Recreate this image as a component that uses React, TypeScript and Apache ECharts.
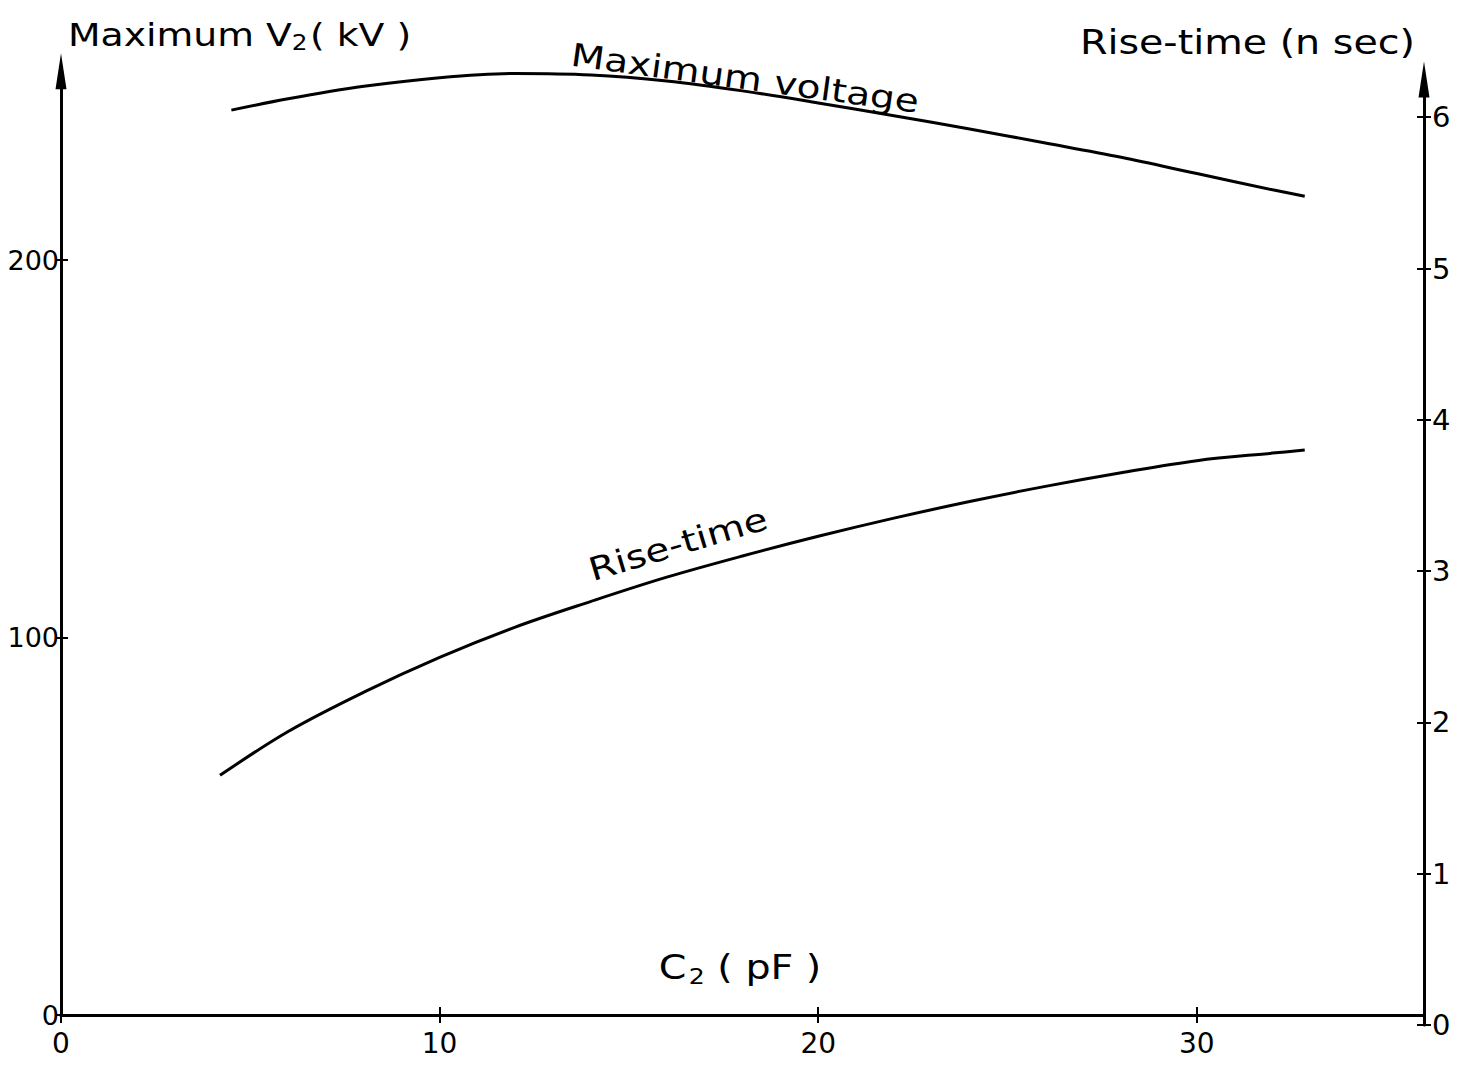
import React, { useEffect, useRef } from "react";
import * as echarts from "echarts";

// Tick values
const xTicks = [0, 10, 20, 30];
const leftTicks = [0, 100, 200];
const rightTicks = [0, 1, 2, 3, 4, 5, 6];

// Maximum voltage curve: C2 (pF) -> Maximum V2 (kV)
const voltageC = [4.5, 6, 8, 10, 12, 14, 16, 18, 20, 22, 24, 26, 28, 30, 32, 32.85];
const voltageKV = [239.7, 242.7, 246.0, 248.3, 249.4, 249.0, 247.4, 244.8, 241.6, 238.2, 234.7, 231.0, 227.2, 222.9, 218.6, 216.9];

// Rise-time curve: C2 (pF) -> rise-time (ns)
const riseC = [4.2, 6, 8, 10, 12, 14, 16, 18, 20, 22, 24, 26, 28, 30, 32, 32.85];
const riseNs = [1.65, 1.94, 2.2, 2.43, 2.63, 2.8, 2.96, 3.1, 3.23, 3.35, 3.46, 3.56, 3.65, 3.73, 3.78, 3.8];

const FONT = "DejaVu Sans";
const BLACK = "#000";

export default function App() {
  const ref = useRef<HTMLDivElement>(null);

  useEffect(() => {
    if (!ref.current) return;
    const chart = echarts.init(ref.current, undefined, { renderer: "svg" });

    const G0 = { left: 61, right: 50, top: 71.25, bottom: 50 };
    const G1 = { left: 61, right: 50, top: 79.4, bottom: 40 };

    const tickStyle = { color: BLACK, width: 2 };

    const option: any = {
      animation: false,
      backgroundColor: "#fff",
      grid: [G0, G1, { ...G0 }, { ...G1 }],
      xAxis: [
        {
          gridIndex: 0,
          type: "value",
          min: 0,
          max: 36,
          axisLine: { show: true, onZero: false, lineStyle: { color: BLACK, width: 3 } },
          axisTick: { show: true, length: 8, inside: false, customValues: xTicks, lineStyle: tickStyle },
          axisLabel: { customValues: xTicks, fontSize: 28, color: BLACK, margin: 14, fontFamily: FONT },
          splitLine: { show: false },
        },
        { gridIndex: 1, type: "value", min: 0, max: 36, show: false },
        {
          gridIndex: 2,
          type: "value",
          min: 0,
          max: 36,
          axisLine: { show: false, onZero: false },
          axisTick: { show: true, length: 8, inside: true, customValues: xTicks, lineStyle: tickStyle },
          axisLabel: { show: false },
          splitLine: { show: false },
        },
        { gridIndex: 3, type: "value", min: 0, max: 36, show: false },
      ],
      yAxis: [
        {
          gridIndex: 0,
          type: "value",
          position: "left",
          min: 0,
          max: 250,
          axisLine: {
            show: true,
            onZero: false,
            symbol: ["none", "triangle"],
            symbolSize: [11, 36],
            lineStyle: { color: BLACK, width: 3 },
          },
          axisTick: { show: true, length: 6, inside: false, customValues: leftTicks, lineStyle: tickStyle },
          axisLabel: { customValues: leftTicks, fontSize: 27, color: BLACK, margin: 2, fontFamily: FONT },
          splitLine: { show: false },
        },
        {
          gridIndex: 1,
          type: "value",
          position: "right",
          min: 0,
          max: 6.25,
          axisLine: {
            show: true,
            onZero: false,
            symbol: ["none", "triangle"],
            symbolSize: [11, 36],
            lineStyle: { color: BLACK, width: 3 },
          },
          axisTick: { show: true, length: 7, inside: false, customValues: rightTicks, lineStyle: tickStyle },
          axisLabel: { customValues: rightTicks, fontSize: 29, color: BLACK, margin: 8, fontFamily: FONT },
          splitLine: { show: false },
        },
        {
          gridIndex: 2,
          type: "value",
          position: "left",
          min: 0,
          max: 250,
          axisLine: { show: false, onZero: false },
          axisTick: { show: true, length: 7, inside: true, customValues: leftTicks, lineStyle: tickStyle },
          axisLabel: { show: false },
          splitLine: { show: false },
        },
        {
          gridIndex: 3,
          type: "value",
          position: "right",
          min: 0,
          max: 6.25,
          axisLine: { show: false, onZero: false },
          axisTick: { show: true, length: 7, inside: true, customValues: rightTicks, lineStyle: tickStyle },
          axisLabel: { show: false },
          splitLine: { show: false },
        },
      ],
      series: [
        {
          name: "Maximum voltage",
          type: "line",
          xAxisIndex: 0,
          yAxisIndex: 0,
          data: voltageC.map((c, i) => [c, voltageKV[i]]),
          smooth: 0.35,
          showSymbol: false,
          clip: false,
          lineStyle: { color: BLACK, width: 3 },
        },
        {
          name: "Rise-time",
          type: "line",
          xAxisIndex: 1,
          yAxisIndex: 1,
          data: riseC.map((c, i) => [c, riseNs[i]]),
          smooth: 0.35,
          showSymbol: false,
          clip: false,
          lineStyle: { color: BLACK, width: 3 },
        },
      ],
      graphic: [
        {
          type: "text",
          x: 68,
          y: 35,
          scaleX: 1.18,
          style: {
            text: "{a|Maximum V}{s|2}{a|( kV )}",
            align: "left",
            verticalAlign: "middle",
            rich: {
              a: { fontSize: 32, fontFamily: FONT, fill: BLACK },
              s: { fontSize: 21, fontFamily: FONT, fill: BLACK, padding: [16, 2, 0, 0] },
            },
          },
        },
        {
          type: "text",
          x: 1415,
          y: 43,
          scaleX: 1.2,
          style: {
            text: "Rise-time (n sec)",
            align: "right",
            verticalAlign: "middle",
            fontSize: 33,
            fontFamily: FONT,
            fill: BLACK,
          },
        },
        {
          type: "text",
          x: 740,
          y: 968,
          scaleX: 1.2,
          style: {
            text: "{a|C}{s|2}{a| ( pF )}",
            align: "center",
            verticalAlign: "middle",
            rich: {
              a: { fontSize: 33, fontFamily: FONT, fill: BLACK },
              s: { fontSize: 21, fontFamily: FONT, fill: BLACK, padding: [16, 0, 0, 2] },
            },
          },
        },
        {
          type: "text",
          x: 745,
          y: 78,
          rotation: -0.135,
          scaleX: 1.22,
          style: {
            text: "Maximum voltage",
            align: "center",
            verticalAlign: "middle",
            fontSize: 32,
            fontFamily: FONT,
            fill: BLACK,
          },
        },
        {
          type: "text",
          x: 678,
          y: 544,
          rotation: 0.29,
          scaleX: 1.22,
          style: {
            text: "Rise-time",
            align: "center",
            verticalAlign: "middle",
            fontSize: 32,
            fontFamily: FONT,
            fill: BLACK,
          },
        },
      ],
    };

    chart.setOption(option);
    return () => chart.dispose();
  }, []);

  return (
    <div
      ref={ref}
      style={{ position: "absolute", left: 0, top: 0, width: 1474, height: 1065, background: "#fff" }}
    />
  );
}
